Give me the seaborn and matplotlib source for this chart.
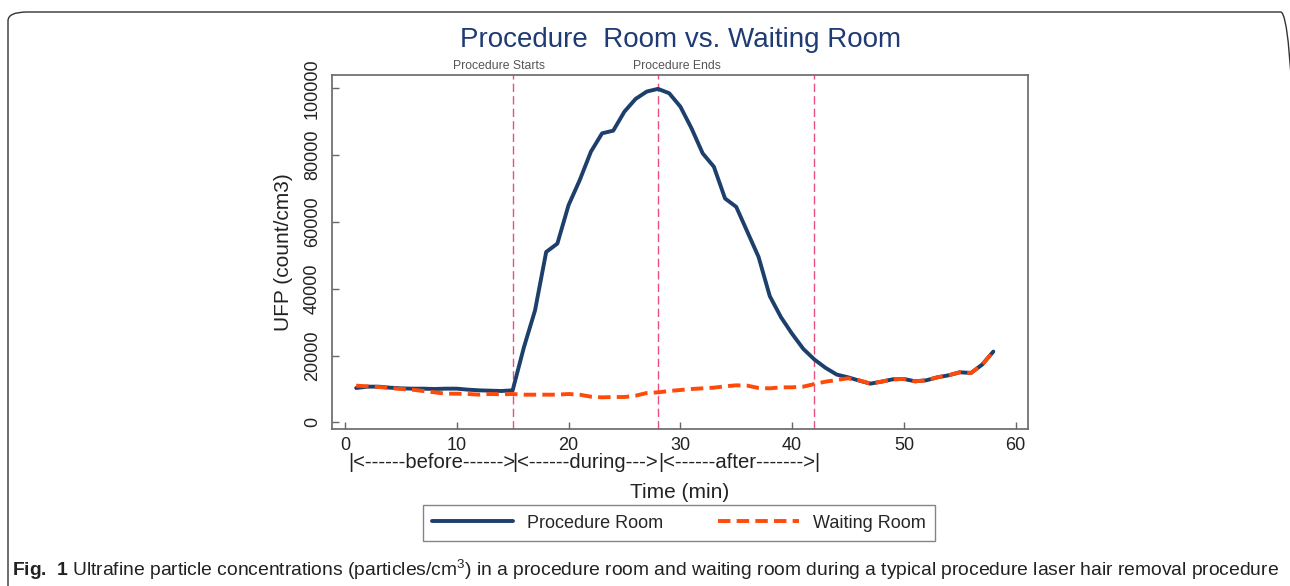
import matplotlib
matplotlib.use("Agg")
import matplotlib.pyplot as plt
import seaborn as sns
import pandas as pd
from matplotlib.patches import FancyBboxPatch

minutes = list(range(1, 59))
procedure_room = [10300, 10700, 10700, 10400, 10200, 10100, 10100, 10000, 10100, 10100,
                  9800, 9600, 9500, 9400, 9600, 22400, 33500, 51000, 53500, 65000,
                  72500, 81000, 86500, 87300, 93000, 96800, 99000, 99800, 98500, 94500,
                  88000, 80500, 76500, 67000, 64500, 57000, 49500, 37800, 31500, 26500,
                  22000, 18800, 16300, 14300, 13500, 12500, 11600, 12200, 12900, 13000,
                  12300, 12600, 13500, 14100, 15000, 14800, 17300, 21200]
waiting_room = [11000, 10800, 10600, 10300, 10000, 9800, 9400, 9000, 8600, 8600,
                8500, 8300, 8500, 8400, 8500, 8300, 8300, 8300, 8300, 8500,
                8300, 7700, 7500, 7600, 7600, 8000, 8800, 9000, 9400, 9700,
                10000, 10200, 10400, 10800, 11100, 11000, 10300, 10200, 10500, 10500,
                10700, 11500, 12200, 12700, 13200, 12600, 11600, 12200, 12900, 13000,
                12300, 12600, 13500, 14100, 15000, 14800, 17300, 21200]
phase_marks = [15, 28, 42]
phase_labels = ["|<------before------>", "|<------during--->", "|<------after------->"]
phase_starts = [0.27, 15, 28]
phase_end = 41.95
x_ticks = [0, 10, 20, 30, 40, 50, 60]
y_ticks = [0, 20000, 40000, 60000, 80000, 100000]

df = pd.DataFrame({"Time": minutes, "Procedure Room": procedure_room,
                   "Waiting Room": waiting_room})

sns.set_style("white")
plt.rcParams["font.family"] = ["Liberation Sans", "DejaVu Sans"]
plt.rcParams["mathtext.fontset"] = "custom"
plt.rcParams["mathtext.rm"] = "Liberation Sans"
plt.rcParams["mathtext.bf"] = "Liberation Sans:bold"

fig = plt.figure(figsize=(12.9, 5.86), dpi=100)
W, H = 1290, 586
ax = fig.add_axes([332 / W, 1 - 429 / H, (1028 - 332) / W, (429 - 75) / H])

navy = "#1c3f6b"
orange = "#ff4a0a"
pink = "#e8507d"

sns.lineplot(data=df, x="Time", y="Procedure Room", ax=ax, color=navy, lw=2.8,
             label="Procedure Room", legend=False)
sns.lineplot(data=df, x="Time", y="Waiting Room", ax=ax, color=orange, lw=2.8,
             linestyle=(0, (3.2, 1.6)), label="Waiting Room", legend=False)

for m in phase_marks:
    ax.axvline(m, color=pink, lw=1.0, ls=(0, (6, 3)), zorder=1)

ax.set_xlim(-1.16, 61.1)
ax.set_ylim(-1970, 103950)
ax.set_xticks(x_ticks)
ax.set_yticks(y_ticks)
ax.set_yticklabels([str(v) for v in y_ticks], rotation=90, va="center")
ax.tick_params(axis="both", direction="in", length=5, width=1, color="#666666",
               labelsize=13, labelcolor="#222222", left=True, bottom=True)
ax.tick_params(axis="x", pad=6)
ax.tick_params(axis="y", pad=8)
for s in ax.spines.values():
    s.set_color("#666666")
    s.set_linewidth(1.2)
ax.set_xlabel("")
ax.set_ylabel("UFP (count/cm3)", fontsize=15, color="#222222", labelpad=8)

# phase annotations
trans = ax.get_xaxis_transform()
ax.text(13.8, 1 + 9 / 354, "Procedure Starts", transform=trans, ha="center", va="center",
        fontsize=8.8, color="#555555")
ax.text(29.7, 1 + 9 / 354, "Procedure Ends", transform=trans, ha="center", va="center",
        fontsize=8.8, color="#555555")

# phase row under the axis
yrow = -34 / 354
for lab, xs in zip(phase_labels, phase_starts):
    ax.text(xs, yrow, lab, transform=trans, ha="left", va="center", fontsize=14.6,
            color="#222222", clip_on=False)
ax.text(phase_end, yrow, "|", transform=trans, ha="left", va="center", fontsize=14.6,
        color="#222222", clip_on=False)

fig.text(680 / W, 1 - 492 / H, "Time (min)", ha="center", va="center", fontsize=15,
         color="#222222")
fig.text(681 / W, 1 - 40 / H, "Procedure  Room vs. Waiting Room", ha="center",
         va="center", fontsize=20, color="#1f3b73")

handles, labels = ax.get_legend_handles_labels()
leg = fig.legend(handles, labels, loc="center", bbox_to_anchor=(679 / W, 1 - 523 / H),
                 ncol=2, fontsize=13, frameon=True, fancybox=False, handlelength=4.5,
                 columnspacing=3, borderpad=0.5, edgecolor="#666666")
leg.get_frame().set_linewidth(1.0)

fig.text(12 / W, 1 - 570 / H,
         r"$\mathbf{Fig.\ 1}$ Ultrafine particle concentrations (particles/cm$^{3}$) in a procedure room and waiting room during a typical procedure laser hair removal procedure",
         ha="left", va="center", fontsize=13.85, color="#222222")

box = FancyBboxPatch((8 / W, -0.1), (1300 - 8) / W, 1 - 12 / H + 0.1,
                     boxstyle="round,pad=0,rounding_size=0.015", transform=fig.transFigure,
                     fill=False, edgecolor="#333333", lw=1.0, clip_on=False)
fig.patches.append(box)

fig.savefig("out.png", dpi=100)
